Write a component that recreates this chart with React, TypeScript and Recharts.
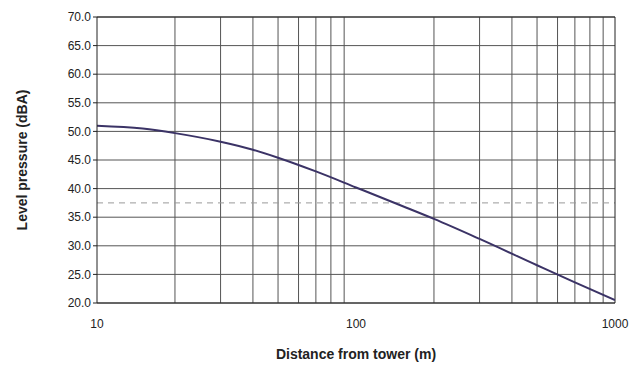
import { LineChart, Line, XAxis, YAxis, CartesianGrid, ReferenceLine, Label } from "recharts"

// distance (m) and level pressure (dBA)
const distances = [10, 15, 20, 30, 40, 50, 70, 100, 150, 200, 300, 500, 700, 1000]
const levels = [51.0, 50.5, 49.7, 48.2, 46.8, 45.4, 43.0, 40.2, 37.0, 34.7, 31.2, 26.6, 23.6, 20.5]

const xTicks = [10, 100, 1000]
const yTicks = [20, 25, 30, 35, 40, 45, 50, 55, 60, 65, 70]
const minorX = [20, 30, 40, 50, 60, 70, 80, 90, 200, 300, 400, 500, 600, 700, 800, 900]

const data = distances.map((d, i) => ({ d, level: levels[i] }))

const font = "Arial, 'Liberation Sans', sans-serif"

export default function App() {
  return (
    <div style={{ position: "absolute", left: 0, top: 0, background: "#fff" }}>
      <LineChart width={629} height={377} data={data} margin={{ top: 17, right: 14, bottom: 44, left: 0 }}>
        <CartesianGrid stroke="#555" strokeWidth={1} vertical={false} />
        {minorX.map((v) => (
          <ReferenceLine key={v} x={v} stroke="#555" strokeWidth={1} />
        ))}
        <ReferenceLine y={37.5} stroke="#999" strokeDasharray="6 5" />
        <XAxis
          dataKey="d"
          type="number"
          scale="log"
          domain={[10, 1000]}
          ticks={xTicks}
          allowDataOverflow
          height={30}
          stroke="#222"
          tickLine={false}
          tickMargin={10}
          tick={{ fill: "#222", fontSize: 12, fontFamily: font }}
        >
          <Label
            value="Distance from tower (m)"
            position="bottom"
            offset={16}
            style={{ fill: "#222", fontSize: 14, fontWeight: "bold", fontFamily: font }}
          />
        </XAxis>
        <YAxis
          type="number"
          domain={[20, 70]}
          ticks={yTicks}
          width={97}
          stroke="#222"
          tickSize={4}
          tickMargin={2}
          tickFormatter={(v: number) => v.toFixed(1)}
          tick={{ fill: "#222", fontSize: 12, fontFamily: font }}
        >
          <Label
            content={({ viewBox }: any) => {
              const cy = viewBox.y + viewBox.height / 2
              return (
                <text
                  x={22}
                  y={cy}
                  transform={`rotate(-90 22 ${cy})`}
                  textAnchor="middle"
                  dominantBaseline="central"
                  style={{ fill: "#222", fontSize: 14, fontWeight: "bold", fontFamily: font }}
                >
                  Level pressure (dBA)
                </text>
              )
            }}
          />
        </YAxis>
        <ReferenceLine x={1000} stroke="#222" />
        <ReferenceLine y={70} stroke="#222" />
        <Line
          type="monotone"
          dataKey="level"
          stroke="#3b3366"
          strokeWidth={2}
          dot={false}
          isAnimationActive={false}
        />
      </LineChart>
    </div>
  )
}
